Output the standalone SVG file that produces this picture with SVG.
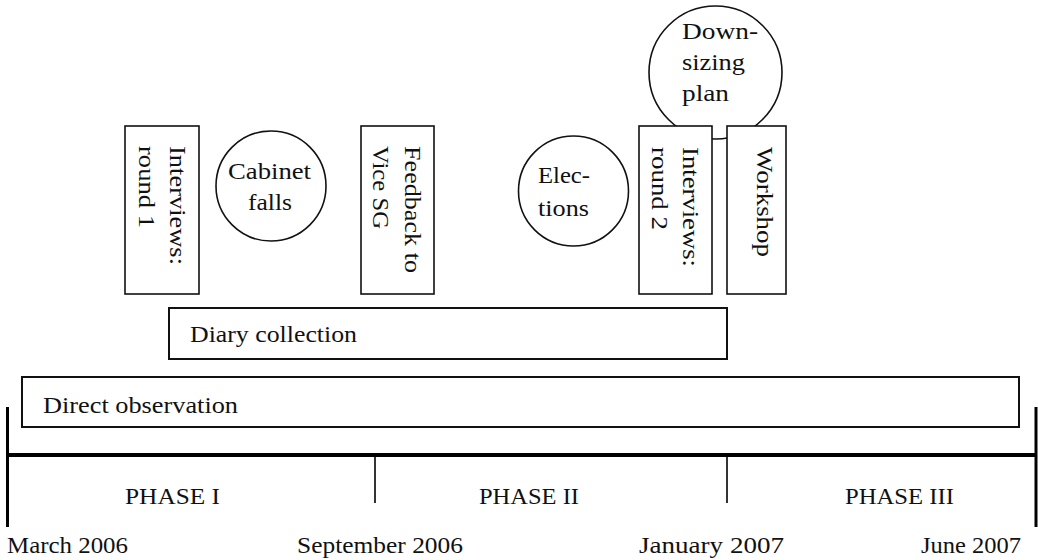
<svg xmlns="http://www.w3.org/2000/svg" width="1038" height="560" viewBox="0 0 1038 560">
  <style>
    text { font-family: "Liberation Serif", "Times New Roman", serif; font-size: 23px; fill: #111; }
    .box { fill: #fff; stroke: #111; stroke-width: 1.6; }
    .bar { fill: #fff; stroke: #111; stroke-width: 2; }
    .event { fill: #fff; stroke: #111; stroke-width: 1.6; }
    .axis { stroke: #000; stroke-width: 4; fill: none; }
    .end { stroke: #000; stroke-width: 3; fill: none; }
    .tick { stroke: #000; stroke-width: 1.6; fill: none; }
    .mid { text-anchor: middle; }
  </style>

  <!-- events (circles first so the boxes overlap them) -->
  <g id="cabinet-falls">
    <circle class="event" cx="271" cy="186" r="55"/>
    <text x="228" y="179" textLength="83" lengthAdjust="spacingAndGlyphs">Cabinet</text>
    <text x="248" y="210" textLength="44" lengthAdjust="spacingAndGlyphs">falls</text>
  </g>
  <g id="elections">
    <circle class="event" cx="573.5" cy="191" r="55"/>
    <text x="538" y="183" textLength="52" lengthAdjust="spacingAndGlyphs">Elec-</text>
    <text x="538" y="216" textLength="51" lengthAdjust="spacingAndGlyphs">tions</text>
  </g>
  <g id="downsizing-plan">
    <circle class="event" cx="715.5" cy="72.5" r="66.5"/>
    <text x="682" y="39" textLength="76" lengthAdjust="spacingAndGlyphs">Down-</text>
    <text x="682" y="70" textLength="63" lengthAdjust="spacingAndGlyphs">sizing</text>
    <text x="682" y="101" textLength="47" lengthAdjust="spacingAndGlyphs">plan</text>
  </g>

  <!-- activities shown as vertical boxes -->
  <g id="interviews-round-1">
    <rect class="box" x="125" y="126" width="74" height="168"/>
    <text transform="translate(170,146) rotate(90)" textLength="119" lengthAdjust="spacingAndGlyphs">Interviews:</text>
    <text transform="translate(139,146) rotate(90)" textLength="82" lengthAdjust="spacingAndGlyphs">round 1</text>
  </g>
  <g id="feedback-vice-sg">
    <rect class="box" x="361" y="126" width="73" height="168"/>
    <text transform="translate(405,146) rotate(90)" textLength="127" lengthAdjust="spacingAndGlyphs">Feedback to</text>
    <text transform="translate(373,146) rotate(90)" textLength="83" lengthAdjust="spacingAndGlyphs">Vice SG</text>
  </g>
  <g id="interviews-round-2">
    <rect class="box" x="639" y="126" width="73" height="168"/>
    <text transform="translate(683,147) rotate(90)" textLength="120" lengthAdjust="spacingAndGlyphs">Interviews:</text>
    <text transform="translate(652,147) rotate(90)" textLength="83" lengthAdjust="spacingAndGlyphs">round 2</text>
  </g>
  <g id="workshop">
    <rect class="box" x="727" y="126" width="59" height="168"/>
    <text transform="translate(757,147) rotate(90)" textLength="110" lengthAdjust="spacingAndGlyphs">Workshop</text>
  </g>

  <!-- long-running activities -->
  <g id="diary-collection">
    <rect class="bar" x="169" y="308" width="558" height="51"/>
    <text x="190" y="342" textLength="167" lengthAdjust="spacingAndGlyphs">Diary collection</text>
  </g>
  <g id="direct-observation">
    <rect class="bar" x="22" y="377" width="997" height="50"/>
    <text x="43" y="413" textLength="195" lengthAdjust="spacingAndGlyphs">Direct observation</text>
  </g>

  <!-- time axis with phase boundaries -->
  <g id="timeline">
    <line class="axis" x1="7" y1="455" x2="1037" y2="455"/>
    <line class="end" x1="7.5" y1="407" x2="7.5" y2="527"/>
    <line class="end" x1="1036" y1="407" x2="1036" y2="527"/>
    <line class="tick" x1="375" y1="455" x2="375" y2="503"/>
    <line class="tick" x1="727" y1="455" x2="727" y2="503"/>
  </g>

  <g id="phases">
    <text x="125" y="504" textLength="95" lengthAdjust="spacingAndGlyphs">PHASE I</text>
    <text x="479" y="504" textLength="100" lengthAdjust="spacingAndGlyphs">PHASE II</text>
    <text x="845" y="504" textLength="109" lengthAdjust="spacingAndGlyphs">PHASE III</text>
  </g>

  <g id="dates">
    <text x="7" y="553" textLength="121" lengthAdjust="spacingAndGlyphs">March 2006</text>
    <text x="297" y="553" textLength="166" lengthAdjust="spacingAndGlyphs">September 2006</text>
    <text x="639" y="553" textLength="145" lengthAdjust="spacingAndGlyphs">January 2007</text>
    <text x="921" y="553" textLength="100" lengthAdjust="spacingAndGlyphs">June 2007</text>
  </g>
</svg>
